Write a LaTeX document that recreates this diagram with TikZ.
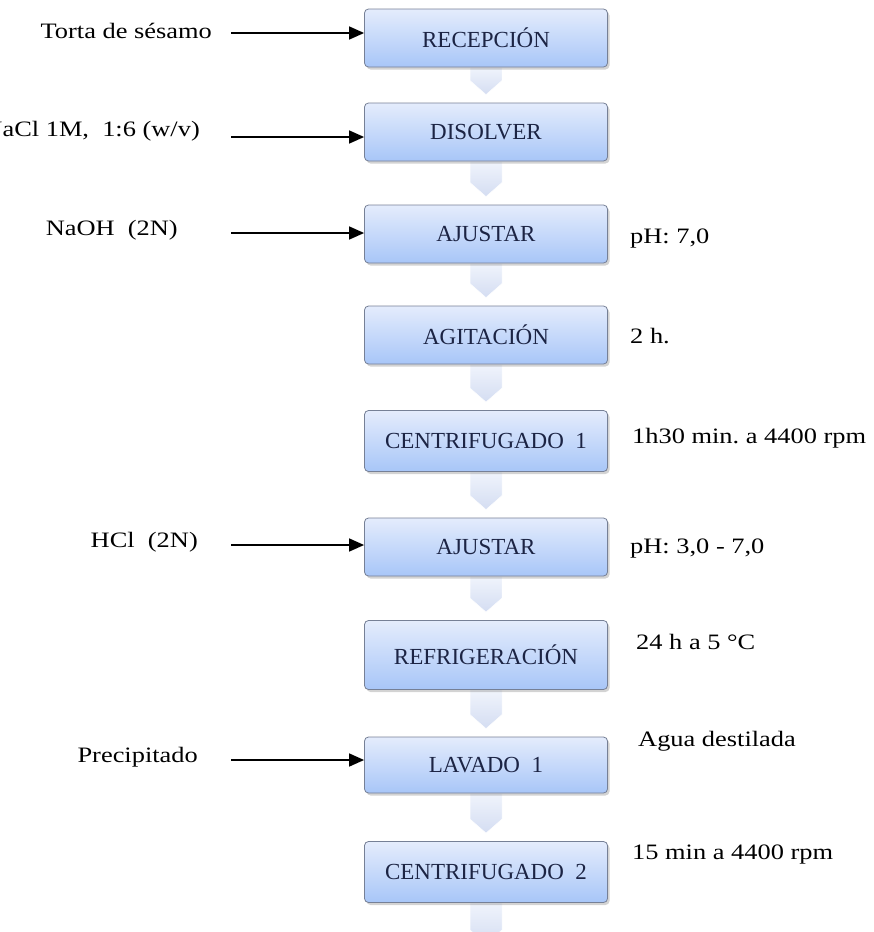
\documentclass[tikz,border=0pt]{standalone}
\usepackage{fontspec}
\setmainfont{Liberation Serif}
\newfontfamily\lblfont{Liberation Serif}[FakeStretch=1.2]
\usetikzlibrary{positioning,calc,shadows,backgrounds,arrows.meta}
\definecolor{BoxTop}{RGB}{228,236,252}
\definecolor{BoxBottom}{RGB}{168,198,248}
\definecolor{BoxLine}{RGB}{118,128,150}
\definecolor{BoxText}{RGB}{28,36,68}
\definecolor{ChevTop}{RGB}{240,244,252}
\definecolor{ChevBottom}{RGB}{212,221,242}
\tikzset{
  proc/.style={rectangle,rounded corners=4pt,draw=BoxLine,line width=0.8pt,
               top color=BoxTop,bottom color=BoxBottom,
               minimum width=243pt,minimum height=58pt,
               font=\fontsize{23}{26}\selectfont,text=BoxText,
               drop shadow={opacity=0.35,shadow xshift=2pt,shadow yshift=-2.5pt}},
  lbl/.style={font=\lblfont\fontsize{22}{25}\selectfont,text=black,inner sep=0pt},
  feed/.style={-{Triangle[length=15pt,width=13pt]},line width=1.5pt,black},
  chev/.style={top color=ChevTop,bottom color=ChevBottom,draw=white,line width=0.5pt},
}
\newcommand{\chevron}[2]{%
  \path[chev] ($(#1.south)+(-16,0)$) -- ($(#2.north)+(-16,-22)$)
    -- ($(#2.north)+(0,-8)$) -- ($(#2.north)+(16,-22)$)
    -- ($(#1.south)+(16,0)$) -- cycle;}

\begin{document}
\begin{tikzpicture}[x=1pt,y=-1pt]
\clip (0,0) rectangle (874,932);

% process steps
\node[proc] (recep) at (486,38) {RECEPCIÓN};
\node[proc] (disol) at (486,132) {DISOLVER};
\node[proc] (ajus1) at (486,234) {AJUSTAR};
\node[proc] (agit) at (486,335) {AGITACIÓN};
\node[proc,minimum height=61pt] (cent1) at (486,441) {CENTRIFUGADO\ \ 1};
\node[proc] (ajus2) at (486,547) {AJUSTAR};
\node[proc,minimum height=69pt] (refri) at (486,655) {REFRIGERACIÓN};
\node[proc,minimum height=56pt] (lav1) at (486,765) {LAVADO\ \ 1};
\node[proc,minimum height=61pt] (cent2) at (486,872) {CENTRIFUGADO\ \ 2};
\coordinate (tail) at (486,952);

% chevrons between steps
\begin{scope}[on background layer]
\foreach \a/\b in {recep/disol,disol/ajus1,ajus1/agit,agit/cent1,cent1/ajus2,
                   ajus2/refri,refri/lav1,lav1/cent2,cent2/tail}
  \chevron{\a}{\b};
\end{scope}

% inputs
\node[lbl,anchor=east] (torta) at (212,31) {Torta de sésamo};
\node[lbl,anchor=east] (nacl) at (200,131) {NaCl 1M,\ \ 1:6 (w/v)};
\node[lbl,anchor=east] (naoh) at (178,230) {NaOH\ \ (2N)};
\node[lbl,anchor=east] (hcl) at (198,542) {HCl\ \ (2N)};
\node[lbl,anchor=east] (prec) at (198,757) {Precipitado};

\coordinate (f1) at (231,33);
\coordinate (f2) at (231,137);
\coordinate (f3) at (231,233);
\coordinate (f4) at (231,545);
\coordinate (f5) at (231,760);
\draw[feed] (f1) -- (f1 -| recep.west);
\draw[feed] (f2) -- (f2 -| disol.west);
\draw[feed] (f3) -- (f3 -| ajus1.west);
\draw[feed] (f4) -- (f4 -| ajus2.west);
\draw[feed] (f5) -- (f5 -| lav1.west);

% conditions
\node[lbl,anchor=west] (ph1) at (630,239) {pH: 7,0};
\node[lbl,anchor=west] (tiem) at (630,336) {2 h.};
\node[lbl,anchor=west] (rpm1) at (632,438) {1h30 min.\ a 4400 rpm};
\node[lbl,anchor=west] (ph2) at (630,549) {pH: 3,0 - 7,0};
\node[lbl,anchor=west] (temp) at (636,642) {24 h a 5 °C};
\node[lbl,anchor=west] (agua) at (638,741) {Agua destilada};
\node[lbl,anchor=west] (rpm2) at (632,855) {15 min a 4400 rpm};
\end{tikzpicture}
\end{document}
